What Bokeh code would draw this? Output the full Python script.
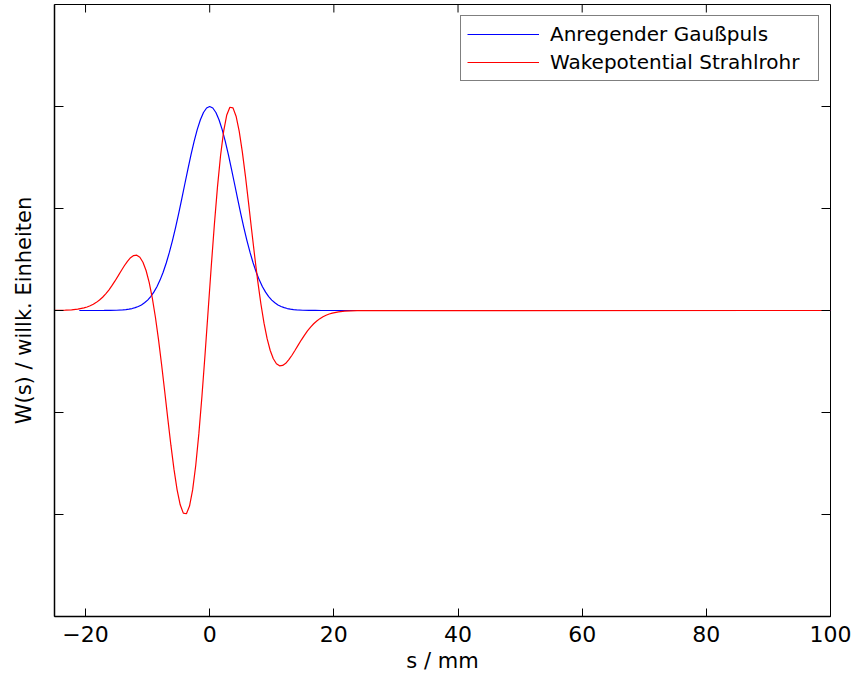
import math
from bokeh.plotting import figure
from bokeh.models import Range1d, FixedTicker, Legend, LegendItem
from bokeh.embed import file_html
from bokeh.resources import INLINE

# ---- data ----
x_min, x_max = -25, 100
y_min, y_max = -1.5, 1.5
x_ticks = [-20, 0, 20, 40, 60, 80, 100]
y_ticks = [-1, -0.5, 0, 0.5, 1]

legend_labels = ["Anregender Gaußpuls", "Wakepotential Strahlrohr"]

blue_x = [-21, -20, -19, -18, -17, -16, -15, -14, -13.5, -13, -12.5, -12, -11.5, -11,
          -10.5, -10, -9.5, -9, -8.5, -8, -7.5, -7, -6.5, -6, -5.5, -5, -4.5, -4,
          -3.5, -3, -2.5, -2, -1.5, -1, -0.5, 0, 0.5, 1, 1.5, 2, 2.5, 3, 3.5, 4,
          4.5, 5, 5.5, 6, 6.5, 7, 7.5, 8, 8.5, 9, 9.5, 10, 10.5, 11, 11.5, 12,
          12.5, 13, 13.5, 14, 15, 16, 17, 18, 19, 20, 21, 100]
blue_y = [0.0, 0.00001, 0.00002, 0.00006, 0.00018, 0.00049, 0.00124, 0.00294, 0.00442,
          0.00656, 0.00959, 0.01380, 0.01957, 0.02735, 0.03765, 0.05108, 0.06826,
          0.08988, 0.11660, 0.14903, 0.18766, 0.23283, 0.28459, 0.34274, 0.40667,
          0.47540, 0.54754, 0.62132, 0.69464, 0.76512, 0.83036, 0.88783, 0.93527,
          0.97069, 0.99259, 1.0, 0.99259, 0.97069, 0.93527, 0.88783, 0.83036,
          0.76512, 0.69464, 0.62132, 0.54754, 0.47540, 0.40667, 0.34274, 0.28459,
          0.23283, 0.18766, 0.14903, 0.11660, 0.08988, 0.06826, 0.05108, 0.03765,
          0.02735, 0.01957, 0.01380, 0.00959, 0.00656, 0.00442, 0.00294, 0.00124,
          0.00049, 0.00018, 0.00006, 0.00002, 0.00001, 0.0, 0.0]

red_x = [-25.25, -24.25, -23.25, -22.25, -21.25, -20.25, -19.75, -19.25, -18.75, -18.25,
         -17.75, -17.25, -16.75, -16.25, -15.75, -15.25, -14.75, -14.25, -13.75, -13.25,
         -12.75, -12.25, -11.75, -11.25, -10.75, -10.25, -9.75, -9.25, -8.75, -8.25,
         -7.75, -7.25, -6.75, -6.25, -5.75, -5.25, -4.75, -4.25, -3.75, -3.25,
         -2.75, -2.25, -1.75, -1.25, -0.75, -0.25, 0.25, 0.75, 1.25, 1.75,
         2.25, 2.75, 3.25, 3.75, 4.25, 4.75, 5.25, 5.75, 6.25, 6.75,
         7.25, 7.75, 8.25, 8.75, 9.25, 9.75, 10.25, 10.75, 11.25, 11.75,
         12.25, 12.75, 13.25, 13.75, 14.25, 14.75, 15.25, 15.75, 16.25, 16.75,
         17.25, 17.75, 18.25, 18.75, 19.25, 19.75, 20.75, 21.75, 22.75, 23.75,
         24.75, 100]
red_y = [0.0003, 0.0007, 0.0015, 0.0033, 0.0066, 0.0126, 0.0172, 0.0231, 0.0305, 0.0399,
         0.0513, 0.0651, 0.0815, 0.1003, 0.1216, 0.1449, 0.1696, 0.1948, 0.2192, 0.2412,
         0.2587, 0.2694, 0.2710, 0.2608, 0.2366, 0.1961, 0.1381, 0.0620, -0.0319, -0.1418,
         -0.2647, -0.3960, -0.5301, -0.6603, -0.7791, -0.8790, -0.9526, -0.9934, -0.9965, -0.9587,
         -0.8793, -0.7599, -0.6048, -0.4205, -0.2156, 0.0, 0.2156, 0.4205, 0.6048, 0.7599,
         0.8793, 0.9587, 0.9965, 0.9934, 0.9526, 0.8790, 0.7791, 0.6603, 0.5301, 0.3960,
         0.2647, 0.1418, 0.0319, -0.0620, -0.1381, -0.1961, -0.2366, -0.2608, -0.2710, -0.2694,
         -0.2587, -0.2412, -0.2192, -0.1948, -0.1696, -0.1449, -0.1216, -0.1003, -0.0815, -0.0651,
         -0.0513, -0.0399, -0.0305, -0.0231, -0.0172, -0.0126, -0.0066, -0.0033, -0.0015, -0.0007,
         -0.0003, 0.0]

FONT = "DejaVu Sans"

p = figure(width=852, height=680, output_backend="svg", toolbar_location=None,
           x_range=Range1d(x_min, x_max), y_range=Range1d(y_min, y_max),
           min_border_left=54, min_border_right=22, min_border_top=4, min_border_bottom=64,
           x_axis_label="s / mm", y_axis_label="W(s) / willk. Einheiten")
p.xgrid.visible = False
p.ygrid.visible = False
p.outline_line_color = "black"
p.outline_line_width = 1
p.background_fill_color = "white"
p.border_fill_color = "white"

b = p.line(blue_x, blue_y, line_color="#0000ff", line_width=1.2)
r = p.line(red_x, red_y, line_color="#ff0000", line_width=1.2)

# bottom axis (with labels)
xa = p.xaxis[0]
xa.ticker = FixedTicker(ticks=x_ticks)
xa.major_tick_in = 8
xa.major_tick_out = 0
xa.minor_tick_in = 0
xa.minor_tick_out = 0
xa.major_tick_line_color = "black"
xa.axis_line_color = "black"
xa.axis_line_width = 1.5
xa.major_label_text_color = "black"
xa.major_label_text_font = FONT
xa.major_label_text_font_size = "22px"
xa.major_label_standoff = 9
xa.axis_label_text_font = FONT
xa.axis_label_text_font_size = "21px"
xa.axis_label_text_font_style = "normal"
xa.axis_label_text_color = "black"
xa.axis_label_standoff = 4

# left axis: unlabeled ticks (drawn below), only the axis title
ya = p.yaxis[0]
ya.ticker = FixedTicker(ticks=[])
ya.major_tick_in = 0
ya.major_tick_out = 0
ya.minor_tick_in = 0
ya.minor_tick_out = 0
ya.axis_line_color = "black"
ya.axis_line_width = 1.5
ya.axis_label_text_font = FONT
ya.axis_label_text_font_size = "21px"
ya.axis_label_text_font_style = "normal"
ya.axis_label_text_color = "black"
ya.axis_label_standoff = 19

# unlabeled tick marks on left, right and top edges of the box
p.ray(x=[x_min] * len(y_ticks), y=y_ticks, length=9, length_units="screen",
      angle=0, line_color="black", line_width=1)
p.ray(x=[x_max] * len(y_ticks), y=y_ticks, length=9, length_units="screen",
      angle=math.pi, line_color="black", line_width=1)
p.ray(x=x_ticks, y=[y_max] * len(x_ticks), length=8, length_units="screen",
      angle=-math.pi / 2, line_color="black", line_width=1)

legend = Legend(items=[LegendItem(label=legend_labels[0], renderers=[b]),
                       LegendItem(label=legend_labels[1], renderers=[r])],
                location="top_right", margin=11, padding=6, spacing=4,
                glyph_width=72, glyph_height=24, label_height=24, label_width=262,
                label_standoff=11, label_text_font=FONT, label_text_font_size="20px",
                label_text_color="black", border_line_color="black", border_line_width=1,
                background_fill_color="white", background_fill_alpha=1.0)
p.add_layout(legend)

open("out.html", "w").write(file_html(p, INLINE))
